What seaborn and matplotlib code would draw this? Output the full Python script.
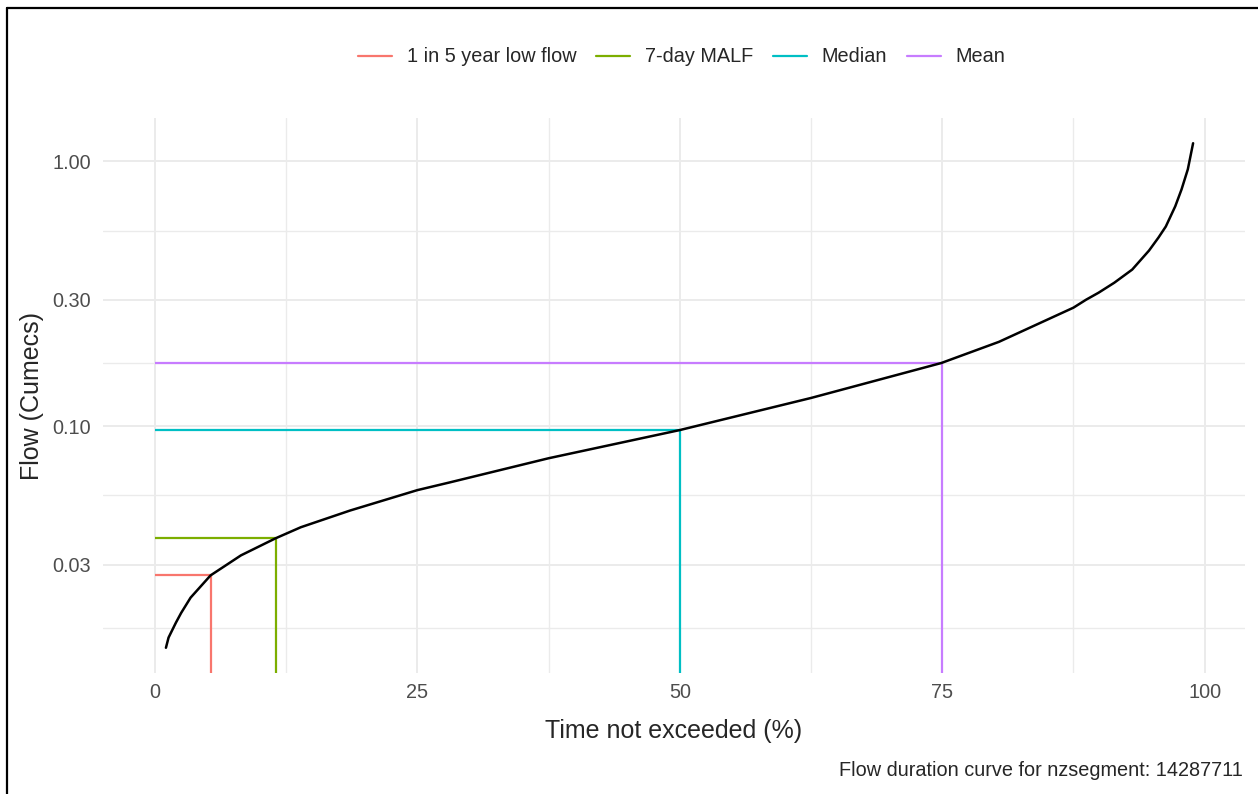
import numpy as np
import pandas as pd
import matplotlib
matplotlib.use("Agg")
import matplotlib.pyplot as plt
from matplotlib.lines import Line2D
import seaborn as sns

# flow duration curve
pct = [1.05, 1.3, 2.0, 2.5, 3.4, 5.3, 8.2, 11.5, 13.9, 18.6, 25.0, 28.1,
       37.5, 50.0, 62.5, 74.9, 80.4, 87.5, 88.7, 89.9, 91.4, 93.1, 94.7,
       95.6, 96.3, 97.2, 97.8, 98.4, 98.9]
flow = [0.01455, 0.0159, 0.0181, 0.0197, 0.0225, 0.0273, 0.0325, 0.0377,
        0.0415, 0.0480, 0.0573, 0.0613, 0.0756, 0.0966, 0.1277, 0.173,
        0.208, 0.280, 0.300, 0.319, 0.348, 0.390, 0.460, 0.515, 0.567,
        0.676, 0.783, 0.933, 1.17]

# reference flows
stat_names = ["1 in 5 year low flow", "7-day MALF", "Median", "Mean"]
stat_pct = [5.3, 11.5, 50.0, 75.0]
stat_flow = [0.0273, 0.0377, 0.0966, 0.173]
stat_colors = ["#F8766D", "#7CAE00", "#00BFC4", "#C77CFF"]

y_breaks = [0.01, 0.03, 0.1, 0.3, 1.0, 3.0]
y_labels = ["0.01", "0.03", "0.10", "0.30", "1.00", "3.00"]
x_breaks = [0, 25, 50, 75, 100]

caption = "Flow duration curve for nzsegment: 14287711"

df = pd.DataFrame({"pct": pct, "flow": flow})

sns.set_theme(style="white")
plt.rcParams["font.family"] = ["Liberation Sans", "DejaVu Sans"]

fig = plt.figure(figsize=(12.58, 7.94), dpi=100)
ax = fig.add_axes([103 / 1258, 1 - 673 / 794, (1245 - 103) / 1258, (673 - 118) / 794])

# limits like ggplot (5% expansion, log space for y)
xmin, xmax = 0, max(pct)
xr = xmax - xmin
ax.set_xlim(xmin - 0.05 * xr, xmax + 0.05 * xr)
ly = np.log10(df["flow"])
lr = ly.max() - ly.min()
ax.set_yscale("log")
ylo = 10 ** (ly.min() - 0.05 * lr)
yhi = 10 ** (ly.max() + 0.05 * lr)

# grid
grid_col = "#EBEBEB"
ax.set_xticks(x_breaks)
ax.set_xticks([12.5, 37.5, 62.5, 87.5], minor=True)
ax.set_yticks(y_breaks)
ax.set_yticklabels(y_labels)
ax.set_yticks(np.sqrt(np.array(y_breaks[:-1]) * np.array(y_breaks[1:])), minor=True)
ax.yaxis.set_minor_formatter(matplotlib.ticker.NullFormatter())
ax.set_ylim(ylo, yhi)
ax.grid(True, which="major", color=grid_col, linewidth=1.4)
ax.grid(True, which="minor", color=grid_col, linewidth=1.0)
ax.set_axisbelow(True)
for s in ax.spines.values():
    s.set_visible(False)
ax.tick_params(which="both", length=0)
ax.tick_params(axis="y", pad=8.5, labelsize=14.3, labelcolor="#4D4D4D")
ax.tick_params(axis="x", pad=7.5, labelsize=14.3, labelcolor="#4D4D4D")

# threshold segments
handles = []
for name, x, y, c in zip(stat_names, stat_pct, stat_flow, stat_colors):
    ax.hlines(y, 0, x, color=c, linewidth=1.6)
    ax.vlines(x, ylo, y, color=c, linewidth=1.6)
    handles.append(Line2D([], [], color=c, linewidth=1.6, label=name))

sns.lineplot(data=df, x="pct", y="flow", ax=ax, color="black", linewidth=1.8,
             sort=True, estimator=None)

ax.set_xlabel("Time not exceeded (%)", fontsize=18, labelpad=12)
ax.set_ylabel("Flow (Cumecs)", fontsize=18, labelpad=6)

fig.legend(handles=handles, loc="center", ncol=4, frameon=False,
           bbox_to_anchor=(682 / 1258, 1 - 57 / 794), fontsize=14.3,
           handlelength=1.7, handletextpad=0.75, columnspacing=1.0)

fig.text(1243 / 1258, 1 - 770 / 794, caption, ha="right", va="center", fontsize=14.3)

# frame of the screenshot (top and left edges)
fig.add_artist(Line2D([7 / 1258, 7 / 1258], [0, 1 - 7.5 / 794], color="black",
                      linewidth=1.6, transform=fig.transFigure))
fig.add_artist(Line2D([7 / 1258, 1], [1 - 7.5 / 794, 1 - 7.5 / 794], color="black",
                      linewidth=1.6, transform=fig.transFigure))

fig.savefig("out.png", dpi=100)
